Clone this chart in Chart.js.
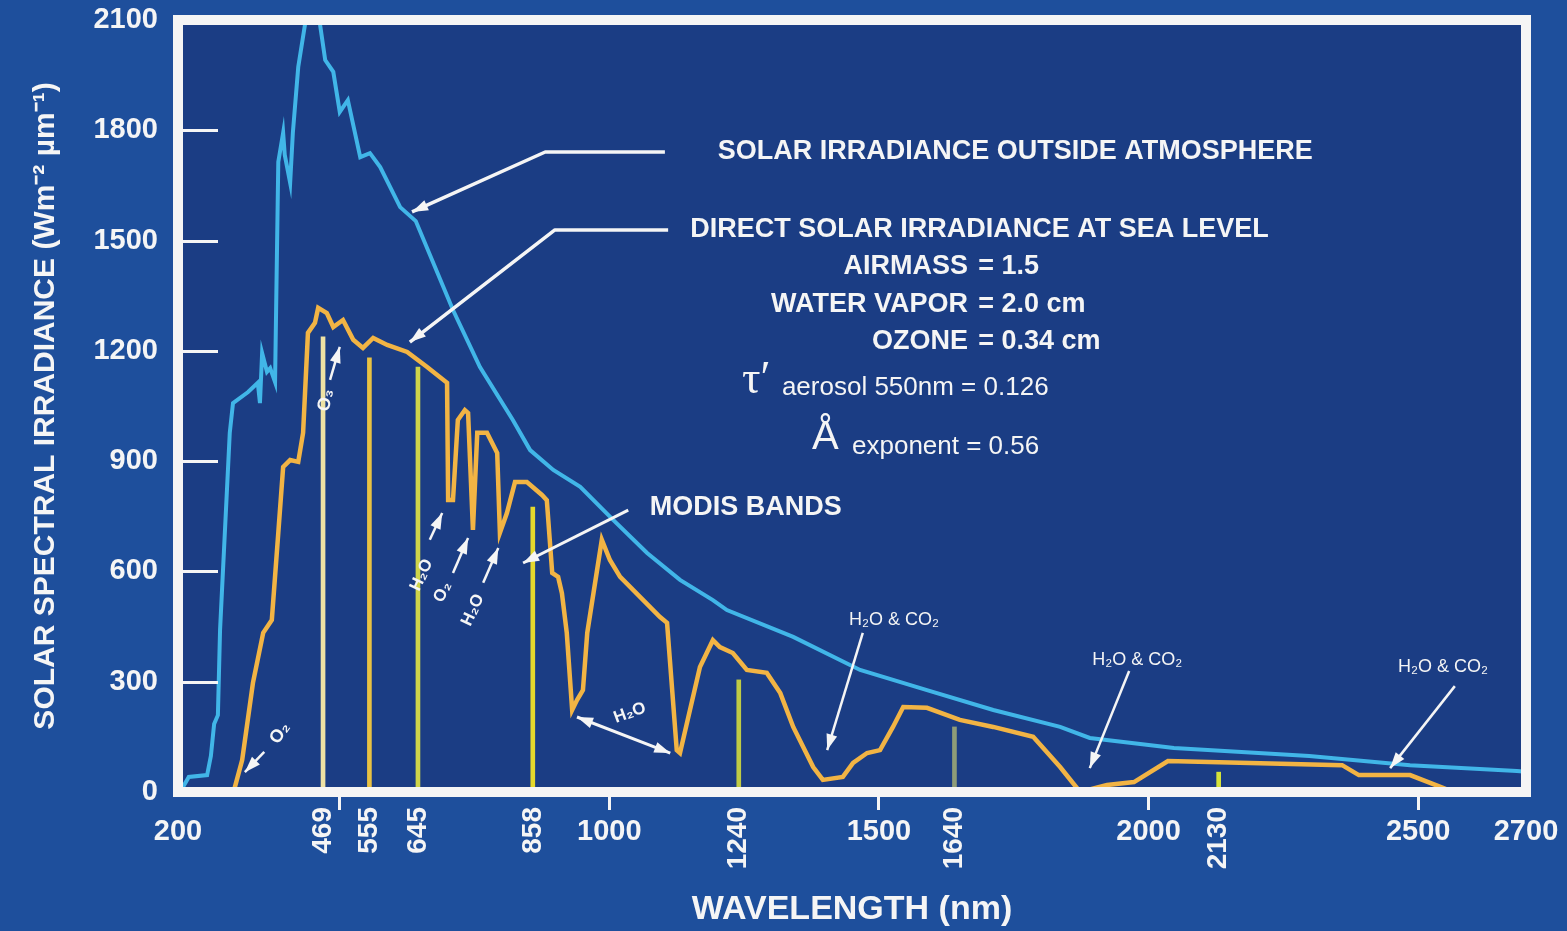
<!DOCTYPE html>
<html>
<head>
<meta charset="utf-8">
<title>Solar spectral irradiance and MODIS bands</title>
<script src="https://cdn.jsdelivr.net/npm/chart.js@4.4.1/dist/chart.umd.min.js"></script>
<style>
  html, body { margin: 0; padding: 0; background: #1e4f9c; overflow: hidden; }
  canvas { display: block; }
</style>
</head>
<body>
<canvas id="chart" width="1567" height="931"></canvas>
<script>
// ---- data -------------------------------------------------------------
// Solar irradiance outside the atmosphere (W m-2 um-1) vs wavelength (nm)
const toaWavelength = [204,220,254,261,267,274,278,296,302,330,348,352,356,365,371,380,386,395,398,408,413,423,436,450,463,473,488,500,515,538,556,575,612,641,710,760,821,853,896,946,1007,1070,1131,1192,1218,1341,1465,1589,1712,1836,1891,2047,2298,2485,2683,2700];
const toaIrradiance = [0,41,46,98,185,209,441,977,1058,1088,1113,1058,1194,1143,1153,1115,1714,1793,1733,1657,1793,1972,2092,2100,2092,1991,1959,1850,1882,1727,1738,1700,1591,1553,1311,1156,1012,930,876,830,740,650,577,522,495,422,332,277,223,177,147,120,98,73,57,55];

// Direct solar irradiance at sea level
const seaWavelength = [304,319,339,358,374,386,395,408,423,432,441,454,460,476,488,506,525,543,562,588,625,662,699,701,710,719,732,738,747,755,773,792,797,810,825,847,875,884,894,905,912,921,931,940,951,959,986,1001,1020,1094,1107,1125,1131,1168,1192,1205,1229,1255,1292,1317,1341,1378,1396,1433,1452,1478,1502,1526,1545,1589,1650,1712,1786,1836,1873,1923,1973,2036,2359,2390,2485,2546,2565];
const seaIrradiance = [5,87,297,433,468,705,884,903,898,977,1249,1276,1317,1303,1265,1284,1230,1208,1235,1216,1197,1156,1113,794,794,1012,1039,1031,713,977,977,922,705,759,843,843,808,794,596,585,541,433,223,250,277,433,686,631,585,476,460,114,106,340,413,394,378,332,324,269,177,68,33,41,79,106,114,177,231,229,196,177,150,68,0,19,27,84,73,46,46,11,0];

// MODIS band centres and the height of each band marker
const bandWavelength = [469,555,645,858,1240,1640,2130];
const bandIrradiance = [1238,1181,1156,775,305,177,54];
const bandColors = ['#eee2a4','#e8c243','#cfd54a','#e5d92c','#bfcb45','#8e9d78','#d5e33a'];

// axis ticks
const xTickValues = [200,500,1000,1500,2000,2500,2700];
const xTickLabels = ['200','','1000','1500','2000','2500','2700'];
const yTickValues = [0,300,600,900,1200,1500,1800,2100];

// ---- styling --------------------------------------------------------------
const SANS = '"Liberation Sans", Arial, Helvetica, sans-serif';
const SERIF = '"Liberation Serif", "DejaVu Serif", serif';
const OUTER_BG = '#1e4f9c';
const INNER_BG = '#1b3d84';
const WHITE = '#f5f5f5';

// callouts, placed in data coordinates [wavelength, irradiance]
const calloutTexts = [
  { text: 'SOLAR IRRADIANCE OUTSIDE ATMOSPHERE', at: [1201, 1741], align: 'left', font: `bold 27px ${SANS}` },
  { text: 'DIRECT SOLAR IRRADIANCE AT SEA LEVEL', at: [1150, 1529], align: 'left', font: `bold 27px ${SANS}` },
  { text: 'AIRMASS', at: [1665, 1428], align: 'right', font: `bold 27px ${SANS}` },
  { text: '= 1.5', at: [1684, 1428], align: 'left', font: `bold 27px ${SANS}` },
  { text: 'WATER VAPOR', at: [1665, 1325], align: 'right', font: `bold 27px ${SANS}` },
  { text: '= 2.0 cm', at: [1684, 1325], align: 'left', font: `bold 27px ${SANS}` },
  { text: 'OZONE', at: [1665, 1224], align: 'right', font: `bold 27px ${SANS}` },
  { text: '= 0.34 cm', at: [1684, 1224], align: 'left', font: `bold 27px ${SANS}` },
  { text: 'τ′', at: [1246, 1118], align: 'left', font: `46px ${SERIF}` },
  { text: 'aerosol 550nm = 0.126', at: [1320, 1099], align: 'left', font: `26px ${SANS}` },
  { text: 'Å', at: [1376, 962], align: 'left', font: `40px ${SANS}` },
  { text: 'exponent = 0.56', at: [1450, 939], align: 'left', font: `26px ${SANS}` },
  { text: 'MODIS BANDS', at: [1075, 775], align: 'left', font: `bold 27px ${SANS}` },
  { text: 'H₂O & CO₂', at: [1528, 468], font: `18px ${SANS}` },
  { text: 'H₂O & CO₂', at: [1979, 359], font: `18px ${SANS}` },
  { text: 'H₂O & CO₂', at: [2546, 340], font: `18px ${SANS}` },
  { text: 'O₂', at: [389, 160], rot: -55, font: `bold 18px ${SANS}` },
  { text: 'O₃', at: [474, 1066], rot: -80, font: `bold 18px ${SANS}` },
  { text: 'H₂O', at: [652, 590], rot: -65, font: `bold 17px ${SANS}` },
  { text: 'O₂', at: [691, 544], rot: -65, font: `bold 17px ${SANS}` },
  { text: 'H₂O', at: [747, 495], rot: -65, font: `bold 17px ${SANS}` },
  { text: 'H₂O', at: [1038, 215], rot: -20, font: `bold 17px ${SANS}` }
];

const calloutArrows = [
  { pts: [[1103, 1741], [881, 1741], [634, 1578]], width: 3.5, heads: 'end' },
  { pts: [[1109, 1529], [899, 1529], [630, 1224]], width: 3.5, heads: 'end' },
  { pts: [[1035, 767], [840, 623]], width: 3, heads: 'end' },
  { pts: [[1470, 433], [1404, 114]], width: 2.5, heads: 'end' },
  { pts: [[1964, 329], [1891, 65]], width: 2.5, heads: 'end' },
  { pts: [[2568, 288], [2448, 65]], width: 2.5, heads: 'end' },
  { pts: [[360, 109], [324, 54]], width: 2.5, heads: 'end' },
  { pts: [[482, 1121], [500, 1211]], width: 2.5, heads: 'end' },
  { pts: [[667, 686], [690, 759]], width: 2.5, heads: 'end' },
  { pts: [[710, 596], [738, 691]], width: 2.5, heads: 'end' },
  { pts: [[766, 569], [794, 664]], width: 2.5, heads: 'end' },
  { pts: [[940, 204], [1113, 106]], width: 3, heads: 'both' }
];

// ---- helpers ----------------------------------------------------------------
const toXY = (xs, ys) => xs.map((x, i) => ({ x: x, y: ys[i] }));

function arrowHead(ctx, x0, y0, x1, y1, len, half) {
  const a = Math.atan2(y1 - y0, x1 - x0);
  ctx.beginPath();
  ctx.moveTo(x1, y1);
  ctx.lineTo(x1 - len * Math.cos(a) + half * Math.sin(a), y1 - len * Math.sin(a) - half * Math.cos(a));
  ctx.lineTo(x1 - len * Math.cos(a) - half * Math.sin(a), y1 - len * Math.sin(a) + half * Math.cos(a));
  ctx.closePath();
  ctx.fill();
}

// background panels and the white plot frame
const framePlugin = {
  id: 'frame',
  beforeDraw(chart) {
    const { ctx, chartArea: a } = chart;
    ctx.save();
    ctx.fillStyle = OUTER_BG;
    ctx.fillRect(0, 0, chart.width, chart.height);
    ctx.fillStyle = INNER_BG;
    ctx.fillRect(a.left, a.top, a.right - a.left, a.bottom - a.top);
    ctx.restore();
  },
  afterDatasetsDraw(chart) {
    const { ctx, chartArea: a, scales } = chart;
    ctx.save();
    // inward tick marks on the irradiance axis
    ctx.strokeStyle = WHITE;
    ctx.lineWidth = 3;
    yTickValues.forEach(v => {
      if (v === 0 || v === 2100) return;
      const y = Math.round(scales.y.getPixelForValue(v)) + 0.5;
      ctx.beginPath();
      ctx.moveTo(a.left, y);
      ctx.lineTo(a.left + 40, y);
      ctx.stroke();
    });
    ctx.lineWidth = 10;
    ctx.strokeRect(a.left, a.top, a.right - a.left, a.bottom - a.top);
    ctx.restore();
  }
};

// callout texts, arrows and the rotated band wavelength labels
const calloutPlugin = {
  id: 'callouts',
  afterDraw(chart) {
    const { ctx, chartArea: a, scales: { x, y } } = chart;
    ctx.save();
    ctx.fillStyle = WHITE;
    ctx.strokeStyle = WHITE;
    ctx.lineJoin = 'round';

    calloutArrows.forEach(ar => {
      const p = ar.pts.map(q => [x.getPixelForValue(q[0]), y.getPixelForValue(q[1])]);
      ctx.lineWidth = ar.width;
      ctx.beginPath();
      ctx.moveTo(p[0][0], p[0][1]);
      for (let i = 1; i < p.length; i++) ctx.lineTo(p[i][0], p[i][1]);
      ctx.stroke();
      const n = p.length;
      arrowHead(ctx, p[n - 2][0], p[n - 2][1], p[n - 1][0], p[n - 1][1], 16, 5.5);
      if (ar.heads === 'both') arrowHead(ctx, p[1][0], p[1][1], p[0][0], p[0][1], 16, 5.5);
    });

    calloutTexts.forEach(t => {
      ctx.save();
      ctx.translate(x.getPixelForValue(t.at[0]), y.getPixelForValue(t.at[1]));
      if (t.rot) ctx.rotate(t.rot * Math.PI / 180);
      ctx.font = t.font;
      ctx.textAlign = t.align || 'center';
      ctx.textBaseline = 'middle';
      ctx.fillText(t.text, 0, 0);
      ctx.restore();
    });

    ctx.font = `bold 28px ${SANS}`;
    ctx.textAlign = 'right';
    ctx.textBaseline = 'middle';
    bandWavelength.forEach(nm => {
      ctx.save();
      ctx.translate(x.getPixelForValue(nm), a.bottom + 15);
      ctx.rotate(-Math.PI / 2);
      ctx.fillText(String(nm), 0, 0);
      ctx.restore();
    });
    ctx.restore();
  }
};

// ---- chart ----------------------------------------------------------------
new Chart(document.getElementById('chart'), {
  type: 'line',
  data: {
    datasets: [
      {
        label: 'Direct solar irradiance at sea level',
        data: toXY(seaWavelength, seaIrradiance),
        borderColor: '#f2b444',
        borderWidth: 4.5,
        pointRadius: 0,
        tension: 0,
        order: 1
      },
      {
        label: 'Solar irradiance outside atmosphere',
        data: toXY(toaWavelength, toaIrradiance),
        borderColor: '#41b6e8',
        borderWidth: 4,
        pointRadius: 0,
        tension: 0,
        order: 2
      },
      {
        type: 'bar',
        label: 'MODIS bands',
        data: toXY(bandWavelength, bandIrradiance),
        backgroundColor: bandColors,
        borderWidth: 0,
        barThickness: 4,
        grouped: false,
        order: 3
      }
    ]
  },
  options: {
    responsive: false,
    animation: false,
    events: [],
    layout: { padding: { top: 20, right: 41, left: 0, bottom: 0 } },
    plugins: { legend: { display: false }, tooltip: { enabled: false } },
    scales: {
      x: {
        type: 'linear',
        min: 200,
        max: 2700,
        offset: false,
        afterBuildTicks: s => { s.ticks = xTickValues.map(v => ({ value: v })); },
        afterFit: s => { s.height = 931 - 792; s.paddingLeft = 0; s.paddingRight = 0; },
        border: { display: false },
        grid: {
          offset: false,
          drawOnChartArea: false,
          drawTicks: true,
          tickLength: 18,
          tickWidth: 3,
          tickColor: c => (c.tick && (c.tick.value === 200 || c.tick.value === 2700)) ? 'rgba(0,0,0,0)' : WHITE
        },
        ticks: {
          autoSkip: false,
          maxRotation: 0,
          padding: 5,
          color: WHITE,
          font: { family: SANS, size: 29, weight: 'bold' },
          callback: v => xTickLabels[xTickValues.indexOf(v)]
        },
        title: {
          display: true,
          text: 'WAVELENGTH (nm)',
          color: WHITE,
          font: { family: SANS, size: 34, weight: 'bold' },
          padding: { top: 0, bottom: 1 }
        }
      },
      y: {
        min: 0,
        max: 2100,
        afterBuildTicks: s => { s.ticks = yTickValues.map(v => ({ value: v })); },
        afterFit: s => { s.width = 178; s.paddingTop = 0; s.paddingBottom = 0; },
        border: { display: false },
        grid: { display: false, drawTicks: false },
        ticks: {
          padding: 20,
          color: WHITE,
          font: { family: SANS, size: 29, weight: 'bold' },
          callback: v => String(v)
        },
        title: {
          display: true,
          text: 'SOLAR SPECTRAL IRRADIANCE (Wm⁻² µm⁻¹)',
          color: WHITE,
          font: { family: SANS, size: 30, weight: 'bold' },
          padding: { top: 28, bottom: 0 }
        }
      }
    }
  },
  plugins: [framePlugin, calloutPlugin]
});
</script>
</body>
</html>
